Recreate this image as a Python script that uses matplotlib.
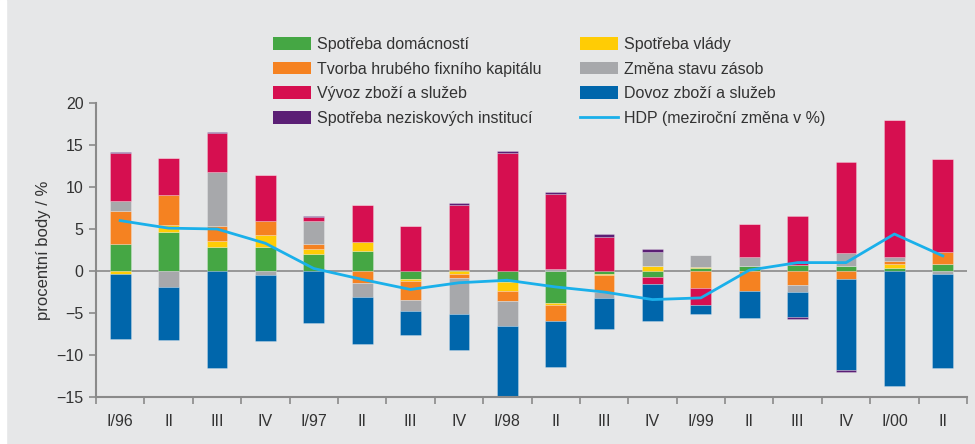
import numpy as np
import matplotlib.pyplot as plt
from matplotlib.patches import Patch
from matplotlib.lines import Line2D

plt.rcParams['font.family'] = ['Liberation Sans', 'DejaVu Sans']

# quarters
labels = ['I/96', 'II', 'III', 'IV', 'I/97', 'II', 'III', 'IV', 'I/98', 'II',
          'III', 'IV', 'I/99', 'II', 'III', 'IV', 'I/00', 'II']

# contributions to GDP growth (percentage points)
domacnosti = [3.2, 4.7, 2.9, 2.8, 2.0, 2.4, -0.9, 0.1, -1.3, -3.8,
              -0.3, -0.7, 0.4, 0.6, 0.7, 0.6, 0.4, 0.8]
vlady = [-0.3, 0.8, 0.7, 1.5, 0.6, 1.0, -0.3, -0.3, -1.1, -0.2,
         -0.2, 0.6, 0.1, 0.0, 0.0, 0.0, 0.4, 0.0]
kapital = [3.9, 3.5, 1.7, 1.6, 0.6, -1.4, -2.3, -0.5, -1.2, -1.9,
           -2.0, 0.0, -2.0, -2.4, -1.7, -1.0, 0.4, 1.5]
zasoby = [1.2, -1.9, 6.5, -0.5, 2.8, -1.7, -1.3, -4.3, -2.9, 0.2,
          -0.7, 1.7, 1.4, 1.1, -0.8, 1.5, 0.5, -0.4]
vyvoz = [5.7, 4.5, 4.6, 5.5, 0.4, 4.5, 5.4, 7.8, 14.1, 9.0,
         4.1, -0.9, -2.1, 3.9, 5.8, 10.9, 16.3, 11.0]
dovoz = [-7.8, -6.3, -11.6, -7.8, -6.2, -5.6, -2.8, -4.3, -8.9, -5.5,
         -3.7, -4.3, -1.0, -3.2, -3.0, -10.8, -13.7, -11.2]
neziskove = [0.2, 0.0, 0.2, 0.0, 0.2, 0.0, 0.0, 0.2, 0.2, 0.2,
             0.3, 0.3, 0.0, 0.0, -0.2, -0.2, 0.0, 0.0]
hdp = [6.0, 5.1, 5.0, 3.3, 0.3, -1.0, -2.2, -1.4, -1.1, -1.9,
       -2.5, -3.4, -3.2, 0.1, 1.0, 1.0, 4.4, 1.8]

series = [
    ('Spotřeba domácností', domacnosti, '#45a744'),
    ('Spotřeba vlády', vlady, '#ffcc05'),
    ('Tvorba hrubého fixního kapitálu', kapital, '#f58221'),
    ('Změna stavu zásob', zasoby, '#a7a8ab'),
    ('Vývoz zboží a služeb', vyvoz, '#d60f50'),
    ('Dovoz zboží a služeb', dovoz, '#0066ab'),
    ('Spotřeba neziskových institucí', neziskove, '#5b1f75'),
]

bg = '#e6e7e8'
fig = plt.figure(figsize=(9.75, 4.44), dpi=100, facecolor=bg)
ax = fig.add_axes([96 / 975, 47 / 444, 871 / 975, 294 / 444])
ax.set_facecolor(bg)

x = np.arange(len(labels))
pos = np.zeros(len(labels))
neg = np.zeros(len(labels))
handles = {}
for name, vals, col in series:
    v = np.array(vals, dtype=float)
    bottom = np.where(v >= 0, pos, neg)
    ax.bar(x, v, 0.43, bottom=bottom, color=col, edgecolor=(1, 1, 1, 0.35),
           linewidth=0.5, zorder=2)
    pos = pos + np.where(v > 0, v, 0)
    neg = neg + np.where(v < 0, v, 0)
    handles[name] = Patch(facecolor=col, edgecolor='none')

ax.axhline(0, color='#8a8a8a', lw=1.2, zorder=1)
ax.plot(x, hdp, color='#1ab0ea', lw=2, zorder=3)
handles['HDP (meziroční změna v %)'] = Line2D([], [], color='#1ab0ea', lw=2)

ax.set_xlim(-0.5, len(labels) - 0.5)
ax.set_ylim(-15, 20)
ax.set_yticks(range(-15, 21, 5))
ax.set_xticks(x)
ax.set_xticklabels(labels)
ax.set_xticks(np.arange(-0.5, len(labels)), minor=True)
ax.tick_params(axis='x', which='major', length=0, pad=12, labelsize=11.5, colors='#333333')
ax.tick_params(axis='x', which='minor', length=5, width=1.2, color='#8a8a8a', direction='out')
ax.tick_params(axis='y', length=5, width=1.2, color='#8a8a8a', labelsize=11.5,
               labelcolor='#333333', pad=4)
for s in ['top', 'right']:
    ax.spines[s].set_visible(False)
for s in ['left', 'bottom']:
    ax.spines[s].set_color('#8a8a8a')
    ax.spines[s].set_linewidth(1.5)
ax.set_ylabel('procentní body / %', fontsize=12, color='#333333', labelpad=4)

col1 = ['Spotřeba domácností', 'Tvorba hrubého fixního kapitálu',
        'Vývoz zboží a služeb', 'Spotřeba neziskových institucí']
col2 = ['Spotřeba vlády', 'Změna stavu zásob', 'Dovoz zboží a služeb',
        'HDP (meziroční změna v %)']
for names, xa in [(col1, 273 / 975), (col2, 580 / 975)]:
    fig.legend([handles[n] for n in names], names, loc='upper left',
               bbox_to_anchor=(xa, 1 - 37 / 444), frameon=False, fontsize=11.5,
               handlelength=2.4, handleheight=0.85, handletextpad=0.35,
               labelspacing=0.6, borderpad=0, borderaxespad=0,
               labelcolor='#333333')

fig.patches.append(plt.Rectangle((0, 0), 6 / 975, 1, transform=fig.transFigure,
                                 color='white', zorder=0))

fig.savefig('out.png', dpi=100, facecolor=bg)
